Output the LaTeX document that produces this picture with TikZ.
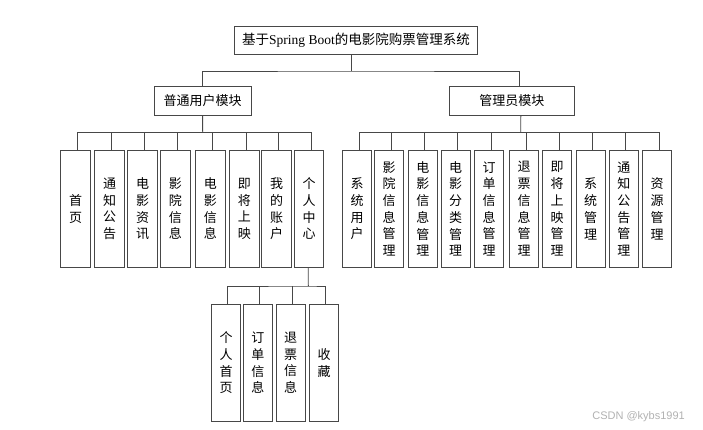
\documentclass[tikz,border=0pt]{standalone}
\usepackage{fontspec}
\setmainfont{Liberation Serif}
\newfontfamily\cjk{Noto Sans CJK SC}
\newfontfamily\wmfont{Liberation Sans}
\begin{document}
\begin{tikzpicture}[x=1pt,y=-1pt,
  box/.style={draw=black!72,line width=0.9pt,fill=white,inner sep=0pt,align=center},
  hbox/.style={box,minimum height=28.3pt,font=\cjk\fontsize{13}{15}\selectfont},
  vbox/.style={box,minimum width=29.3pt,minimum height=117.5pt,font=\cjk\fontsize{13}{16.7}\selectfont},
  conn/.style={draw=black!72,line width=0.9pt}]
\useasboundingbox[fill=white] (0,0) rectangle (703,430);
% top level
\node[hbox,minimum width=243.4pt,font=\fontsize{13.5}{15}\selectfont] (title) at (356,40.15)
  {{\cjk 基于}Spring Boot{\cjk 的电影院购票管理系统}};
\node[hbox,minimum width=96.7pt] (user) at (202.65,100.85) {普通用户模块};
\node[hbox,minimum width=125pt] (admin) at (511.8,100.85) {管理员模块};
\coordinate (t) at (351,71);
\draw[conn] ([xshift=-5pt]title.south) -- (t);
\draw[conn] (user.north) |- (t) -| ([xshift=7.5pt]admin.north);
% user children
\node[vbox] (u1) at (75.5,208.85) {首\\页};
\node[vbox] (u2) at (109.5,208.85) {通\\知\\公\\告};
\node[vbox] (u3) at (142.5,208.85) {电\\影\\资\\讯};
\node[vbox] (u4) at (175.3,208.85) {影\\院\\信\\息};
\node[vbox] (u5) at (210.3,208.85) {电\\影\\信\\息};
\node[vbox] (u6) at (244.3,208.85) {即\\将\\上\\映};
\node[vbox] (u7) at (276.5,208.85) {我\\的\\账\\户};
\node[vbox] (u8) at (309.2,208.85) {个\\人\\中\\心};
\coordinate (ub) at (202.7,132.5);
\draw[conn] (user.south) -- (ub);
\draw[conn] ([xshift=2pt]u1.north) |- (ub) -| ([xshift=2pt]u8.north);
\foreach \n in {u2,u3,u4,u5,u6,u7}
  \draw[conn] ([xshift=2pt]\n.north) -- ([xshift=2pt]\n.north |- ub);
% admin children
\node[vbox] (a1) at (357,208.85) {系\\统\\用\\户};
\node[vbox] (a2) at (389.2,208.85) {影\\院\\信\\息\\管\\理};
\node[vbox] (a3) at (422.8,208.85) {电\\影\\信\\息\\管\\理};
\node[vbox] (a4) at (455.7,208.85) {电\\影\\分\\类\\管\\理};
\node[vbox] (a5) at (489,208.85) {订\\单\\信\\息\\管\\理};
\node[vbox] (a6) at (524.2,208.85) {退\\票\\信\\息\\管\\理};
\node[vbox] (a7) at (557.2,208.85) {即\\将\\上\\映\\管\\理};
\node[vbox] (a8) at (590.7,208.85) {系\\统\\管\\理};
\node[vbox] (a9) at (623.9,208.85) {通\\知\\公\\告\\管\\理};
\node[vbox] (a10) at (657.2,208.85) {资\\源\\管\\理};
\coordinate (ab) at (520.7,132.7);
\draw[conn] ([xshift=9pt]admin.south) -- (ab);
\draw[conn] ([xshift=2pt]a1.north) |- (ab) -| ([xshift=2pt]a10.north);
\foreach \n in {a2,a3,a4,a5,a6,a7,a8,a9}
  \draw[conn] ([xshift=2pt]\n.north) -- ([xshift=2pt]\n.north |- ab);
% sub children of 个人中心
\node[vbox,minimum height=117pt] (s1) at (226,362.8) {个\\人\\首\\页};
\node[vbox,minimum height=117pt] (s2) at (257.8,362.8) {订\\单\\信\\息};
\node[vbox,minimum height=117pt] (s3) at (290.7,362.8) {退\\票\\信\\息};
\node[vbox,minimum height=117pt] (s4) at (324,362.8) {收\\藏};
\coordinate (sb) at (308.3,286);
\draw[conn] ([xshift=-1pt]u8.south) -- (sb);
\draw[conn] ([xshift=1.6pt]s1.north) |- (sb) -| ([xshift=1.6pt]s4.north);
\foreach \n in {s2,s3}
  \draw[conn] ([xshift=1.6pt]\n.north) -- ([xshift=1.6pt]\n.north |- sb);
% watermark
\node[anchor=east,inner sep=0pt,text=black!30,font=\wmfont\fontsize{11}{13}\selectfont] (wm) at (685,416.7) {CSDN @kybs1991};
\end{tikzpicture}
\end{document}
